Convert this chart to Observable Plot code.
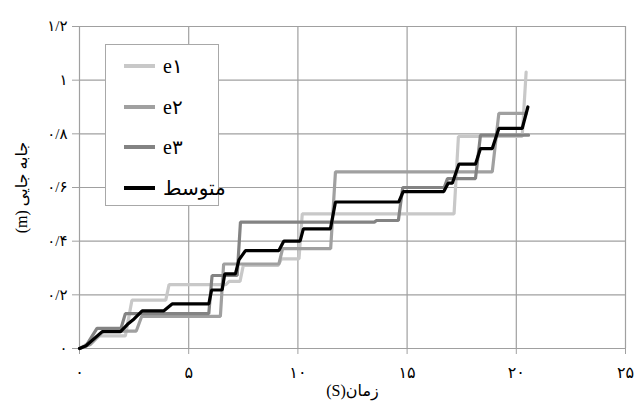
<!DOCTYPE html>
<html>
<head>
<meta charset="utf-8">
<script src="https://cdn.jsdelivr.net/npm/d3@7"></script>
<script src="https://cdn.jsdelivr.net/npm/@observablehq/plot@0.6"></script>
<style>
  body { margin: 0; background: #fff; }
  #chart { position: relative; width: 635px; height: 409px; font-family: "Liberation Serif", "DejaVu Sans", serif; }
  .legend { position: absolute; left: 105px; top: 44px; width: 114px; height: 162px; box-sizing: border-box;
            border: 1px solid #a8a8a8; background: #fff; }
  .legend .row { position: absolute; left: 0; height: 24px; display: flex; align-items: center; }
  .legend svg { margin-left: 18px; }
  .legend span { margin-left: 8px; font-size: 20px; color: #000; white-space: nowrap; }
</style>
</head>
<body>
<div id="chart"></div>
<script>
// Displacement over time for three trials and their mean
const seriesNames = ["e۱", "e۲", "e۳", "متوسط"];
const seriesColors = ["#c8c8c8", "#a0a0a0", "#838383", "#000000"];

const t1 = [0, 0.4, 0.9, 2.1, 2.4, 3.95, 4.1, 6.7, 6.85, 7.35, 7.5, 9.1, 9.25, 10.05, 10.2, 17.15, 17.35, 20.27, 20.45];
const e1 = [0, 0.02, 0.047, 0.047, 0.18, 0.18, 0.238, 0.238, 0.25, 0.25, 0.31, 0.31, 0.334, 0.334, 0.502, 0.502, 0.79, 0.79, 1.03];

const t2 = [0, 0.5, 1.1, 2.6, 2.85, 6.45, 6.6, 9.13, 9.3, 11.5, 11.72, 18.9, 19.2, 20.45];
const e2 = [0, 0.015, 0.065, 0.065, 0.12, 0.12, 0.315, 0.315, 0.372, 0.372, 0.658, 0.658, 0.876, 0.876];

const t3 = [0, 0.3, 0.8, 1.9, 2.1, 5.92, 6.07, 7.22, 7.37, 13.5, 13.6, 14.6, 14.8, 16.7, 16.85, 18.13, 18.36, 20.56];
const e3 = [0, 0.01, 0.075, 0.075, 0.13, 0.13, 0.272, 0.272, 0.471, 0.471, 0.477, 0.477, 0.6, 0.6, 0.633, 0.633, 0.795, 0.795];

const tm = [0, 0.3, 1.04, 1.88, 2.2, 2.5, 2.87, 3.85, 4.24, 5.92, 6.05, 6.53, 6.65, 7.14, 7.3, 7.6, 9.13, 9.35, 10.1, 10.25, 11.49, 11.72, 14.62, 14.82, 16.68, 16.88, 17.07, 17.37, 18.13, 18.36, 18.9, 19.2, 20.27, 20.53];
const em = [0, 0.01, 0.063, 0.063, 0.09, 0.11, 0.14, 0.14, 0.166, 0.166, 0.218, 0.218, 0.278, 0.278, 0.33, 0.365, 0.365, 0.4, 0.4, 0.446, 0.446, 0.546, 0.546, 0.585, 0.585, 0.616, 0.616, 0.687, 0.687, 0.745, 0.745, 0.82, 0.82, 0.9];

const xTicks = [0, 5, 10, 15, 20, 25];
const yTicks = [0, 0.2, 0.4, 0.6, 0.8, 1, 1.2];
const xTitle = "زمان(S)";
const yTitle = "جابه جایی (m)";

// Persian digits, with "/" as the decimal separator
const fa = v => String(+(+v).toFixed(2)).replace(/\d/g, d => "۰۱۲۳۴۵۶۷۸۹"[d]).replace(".", "/");
// wrap a Persian title in a right-to-left embedding so it reads correctly
const rtl = s => "\u202B" + s + "\u202C";

const times = [t1, t2, t3, tm];
const values = [e1, e2, e3, em];
const rows = seriesNames.flatMap((name, i) => times[i].map((t, j) => ({series: name, t, v: values[i][j]})));

const gridColor = "#a0a0a0";

const chart = Plot.plot({
  width: 635,
  height: 409,
  marginLeft: 79,
  marginRight: 10,
  marginTop: 26,
  marginBottom: 61,
  style: {fontFamily: '"Liberation Serif", "DejaVu Sans", serif', fontSize: "15px", background: "#fff"},
  x: {domain: [0, 25]},
  y: {domain: [0, 1.2]},
  color: {domain: seriesNames, range: seriesColors},
  marks: [
    Plot.gridX(xTicks, {stroke: gridColor, strokeOpacity: 1, strokeWidth: 1.2}),
    Plot.gridY(yTicks, {stroke: gridColor, strokeOpacity: 1, strokeWidth: 1.2}),
    Plot.axisX(xTicks, {tickSize: 6, tickPadding: 12, tickFormat: fa, stroke: gridColor, fill: "#000", label: null, fontSize: 16}),
    Plot.axisY(yTicks, {tickSize: 7, tickPadding: 5, tickFormat: fa, stroke: gridColor, fill: "#000", label: null, fontSize: 15}),
    Plot.line(rows, {x: "t", y: "v", z: "series", stroke: "series", strokeWidth: 3.2, strokeLinejoin: "miter"}),
    Plot.text([rtl(xTitle)], {frameAnchor: "bottom", dy: 47, textAnchor: "middle", fontSize: 16, fill: "#000"}),
    Plot.text([rtl(yTitle)], {frameAnchor: "left", dx: -58, rotate: -90, textAnchor: "middle", fontSize: 16, fill: "#000"})
  ]
});

const root = document.getElementById("chart");
root.appendChild(chart);

// Legend box drawn over the plot area
const legend = document.createElement("div");
legend.className = "legend";
const rowTops = [9, 50, 90, 131];
seriesNames.forEach((name, i) => {
  const row = document.createElement("div");
  row.className = "row";
  row.style.top = rowTops[i] + "px";
  row.innerHTML = `<svg width="31" height="6"><line x1="0" y1="3" x2="31" y2="3" stroke="${seriesColors[i]}" stroke-width="4"/></svg><span>${name}</span>`;
  legend.appendChild(row);
});
root.appendChild(legend);
</script>
</body>
</html>
